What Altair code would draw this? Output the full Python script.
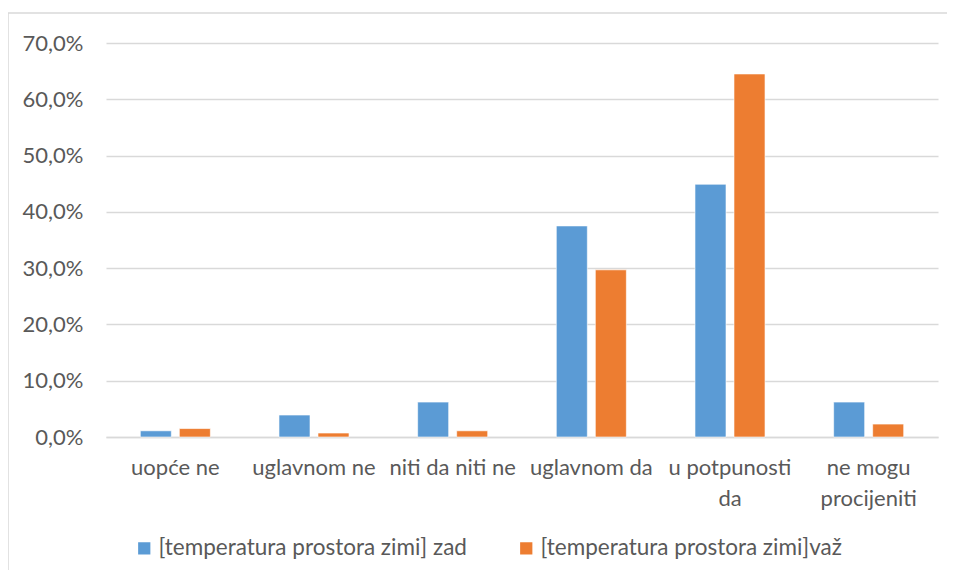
import altair as alt
import pandas as pd

categories = ["uopće ne", "uglavnom ne", "niti da niti ne", "uglavnom da", "u potpunosti|da", "ne mogu|procijeniti"]
series = ["[temperatura prostora zimi] zad", "[temperatura prostora zimi]važ"]
zad = [0.011, 0.039, 0.062, 0.375, 0.449, 0.062]
vaz = [0.015, 0.007, 0.011, 0.297, 0.645, 0.023]
colors = ["#5B9BD5", "#ED7D31"]

rows = []
for c, a, b in zip(categories, zad, vaz):
    rows.append({"cat": c, "series": series[0], "value": a})
    rows.append({"cat": c, "series": series[1], "value": b})
df = pd.DataFrame(rows)

FONT = "Lato"
GRAY = "#595959"

bars = alt.Chart(df).mark_bar(stroke="white", strokeWidth=0.6).encode(
    x=alt.X("cat:N", sort=categories,
            scale=alt.Scale(paddingInner=0.495, paddingOuter=0.2475),
            axis=alt.Axis(title=None, labelAngle=0, labelExpr="split(datum.label, '|')",
                          labelFont=FONT, labelFontSize=22, labelColor=GRAY,
                          labelPadding=20, labelLineHeight=31, ticks=False,
                          domain=True, domainColor="#D9D9D9", domainWidth=1.5,
                          labelBaseline="top", labelLimit=200)),
    xOffset=alt.XOffset("series:N", sort=series, scale=alt.Scale(paddingInner=0.205)),
    y=alt.Y("value:Q", scale=alt.Scale(domain=[0, 0.7], nice=False),
            axis=alt.Axis(title=None, values=[0, 0.1, 0.2, 0.3, 0.4, 0.5, 0.6, 0.7],
                          labelExpr="replace(format(datum.value*100, '.1f'), '.', ',') + '%'",
                          labelFont=FONT, labelFontSize=22, labelColor=GRAY,
                          labelPadding=23, ticks=False, domain=False,
                          grid=True, gridColor="#D9D9D9", gridWidth=1.5)),
    color=alt.Color("series:N", sort=series,
                    scale=alt.Scale(domain=series, range=colors),
                    legend=alt.Legend(title=None, orient="none", direction="horizontal",
                                      legendX=27, legendY=494,
                                      symbolType="square", symbolSize=150, symbolStrokeWidth=0,
                                      labelOffset=3,
                                      labelFont=FONT, labelFontSize=22.5, labelColor=GRAY,
                                      columnPadding=48, labelLimit=500)),
)

edge = pd.DataFrame({"k": [0]})
left_border = alt.Chart(edge).mark_rule(color="#D9D9D9", strokeWidth=1.5).encode(
    x=alt.value(-98), y=alt.value(-30), y2=alt.value(600)
)
top_border = alt.Chart(edge).mark_rule(color="#D9D9D9", strokeWidth=1.5).encode(
    x=alt.value(-98), x2=alt.value(841), y=alt.value(-30)
)

chart = alt.layer(left_border, top_border, bars).properties(
    width=832, height=394,
    autosize=alt.AutoSizeParams(type="none"),
    padding={"left": 98, "top": 35, "right": 9, "bottom": 133},
).configure_view(stroke=None)

chart.save("out.html", embed_options={"renderer": "svg", "actions": False})
